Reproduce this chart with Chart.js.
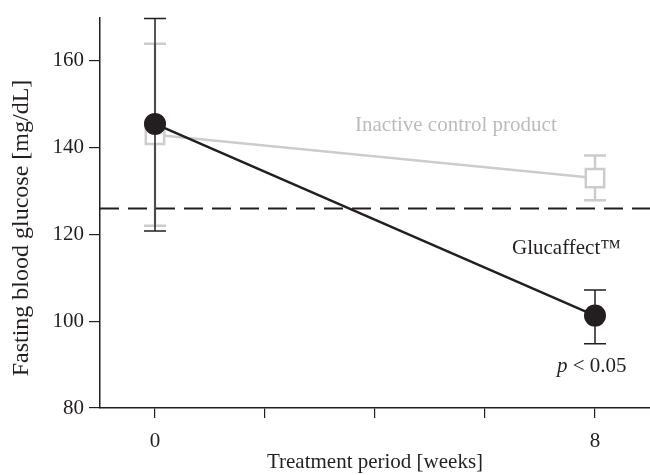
<!DOCTYPE html>
<html>
<head>
<meta charset="utf-8">
<script src="https://cdn.jsdelivr.net/npm/chart.js@4/dist/chart.umd.min.js"></script>
<style>
  html, body { margin: 0; padding: 0; background: #fff; overflow: hidden; }
  #wrap { width: 650px; height: 475px; }
  canvas { display: block; }
</style>
</head>
<body>
<div id="wrap"><canvas id="glucoseChart"></canvas></div>
<script>
// data
const weeks = [0, 8];
const glucaffectMean = [145.5, 101.3];
const glucaffectLow = [120.8, 94.8];
const glucaffectHigh = [169.8, 107.2];
const controlMean = [143.0, 133.0];
const controlLow = [122.0, 127.9];
const controlHigh = [164.0, 138.2];
const threshold = 126;
const xTicks = [0, 2, 4, 6, 8];
const xTickLabels = ['0', '', '', '', '8'];
const yTicks = [80, 100, 120, 140, 160];

const black = '#231f20';
const grey = '#cccccc';
const axisFont = { family: 'Liberation Serif', size: 21 };

const toPoints = (xs, ys) => xs.map((x, i) => ({ x: x, y: ys[i] }));

// error bars, y title and text labels
const extras = {
    id: 'extras',
    beforeDatasetsDraw(chart) {
        drawBars(chart, controlLow, controlHigh, grey);
    },
    afterDatasetsDraw(chart) {
        drawBars(chart, glucaffectLow, glucaffectHigh, black);
        const ctx = chart.ctx;
        ctx.save();
        ctx.textBaseline = 'middle';
        ctx.textAlign = 'left';
        ctx.font = '21px "Liberation Serif"';
        ctx.fillStyle = '#bbbbbb';
        ctx.fillText('Inactive control product', 355, 125);
        ctx.fillStyle = black;
        ctx.fillText('Glucaffect\u2122', 512, 248);
        ctx.font = 'italic 21px "Liberation Serif"';
        ctx.fillText('p', 557, 366);
        const pw = ctx.measureText('p ').width;
        ctx.font = '21px "Liberation Serif"';
        ctx.fillText('< 0.05', 557 + pw, 366);

        // y axis title
        ctx.translate(22, 228);
        ctx.rotate(-Math.PI / 2);
        ctx.textAlign = 'center';
        ctx.font = '24px "Liberation Serif"';
        ctx.fillText('Fasting blood glucose [mg/dL]', 0, 0);
        ctx.restore();
    }
};

function drawBars(chart, lows, highs, color) {
    const ctx = chart.ctx;
    const xs = chart.scales.x;
    const ys = chart.scales.y;
    ctx.save();
    ctx.strokeStyle = color;
    ctx.lineWidth = color == grey ? 2.5 : 1.5;
    for (let i = 0; i < weeks.length; i++) {
        const px = xs.getPixelForValue(weeks[i]);
        const top = ys.getPixelForValue(highs[i]);
        const bot = ys.getPixelForValue(lows[i]);
        ctx.beginPath();
        ctx.moveTo(px, top); ctx.lineTo(px, bot);
        ctx.moveTo(px - 11, top); ctx.lineTo(px + 11, top);
        ctx.moveTo(px - 11, bot); ctx.lineTo(px + 11, bot);
        ctx.stroke();
    }
    ctx.restore();
}

const ctx = document.getElementById('glucoseChart').getContext('2d');
const myChart = new Chart(ctx, {
    type: 'line',
    data: {
        datasets: [{
            label: 'Glucaffect',
            data: toPoints(weeks, glucaffectMean),
            borderColor: black,
            backgroundColor: black,
            borderWidth: 2.5,
            pointRadius: 11,
            pointBorderWidth: 0,
            pointStyle: 'circle'
        }, {
            label: 'Inactive control product',
            data: toPoints(weeks, controlMean),
            borderColor: grey,
            backgroundColor: '#ffffff',
            borderWidth: 2.5,
            pointRadius: 13,
            pointBorderWidth: 2.5,
            pointBorderColor: grey,
            pointStyle: 'rect'
        }, {
            label: 'threshold',
            data: [{ x: -1, y: threshold }, { x: 9, y: threshold }],
            borderColor: black,
            borderWidth: 2,
            borderDash: [19, 9],
            pointRadius: 0
        }]
    },
    options: {
        responsive: true,
        maintainAspectRatio: false,
        animation: false,
        layout: { autoPadding: false, padding: { top: 15, right: 0, left: 0, bottom: 0 } },
        plugins: { legend: { display: false }, tooltip: { enabled: false } },
        scales: {
            x: {
                type: 'linear',
                min: -1,
                max: 9,
                afterBuildTicks: (scale) => { scale.ticks = xTicks.map(v => ({ value: v })); },
                afterFit: (scale) => {
                    scale.height = 67;
                    scale.paddingLeft = 0;
                    scale.paddingRight = 0;
                },
                ticks: {
                    color: black,
                    font: axisFont,
                    padding: 11,
                    maxRotation: 0,
                    callback: (v) => xTickLabels[xTicks.indexOf(v)]
                },
                grid: { drawOnChartArea: false, drawTicks: true, tickLength: 10, color: black, lineWidth: 1.2 },
                border: { display: true, color: black, width: 1.5 },
                title: {
                    display: true,
                    text: 'Treatment period [weeks]',
                    color: black,
                    font: axisFont,
                    padding: { top: 0, bottom: 0 }
                }
            },
            y: {
                min: 80,
                max: 170,
                afterBuildTicks: (scale) => { scale.ticks = yTicks.map(v => ({ value: v })); },
                afterFit: (scale) => { scale.width = 100; },
                ticks: { color: black, font: axisFont, padding: 5 },
                grid: { drawOnChartArea: false, drawTicks: true, tickLength: 11, color: black, lineWidth: 1.2 },
                border: { display: true, color: black, width: 1.5 }
            }
        }
    },
    plugins: [extras]
});
</script>
</body>
</html>
